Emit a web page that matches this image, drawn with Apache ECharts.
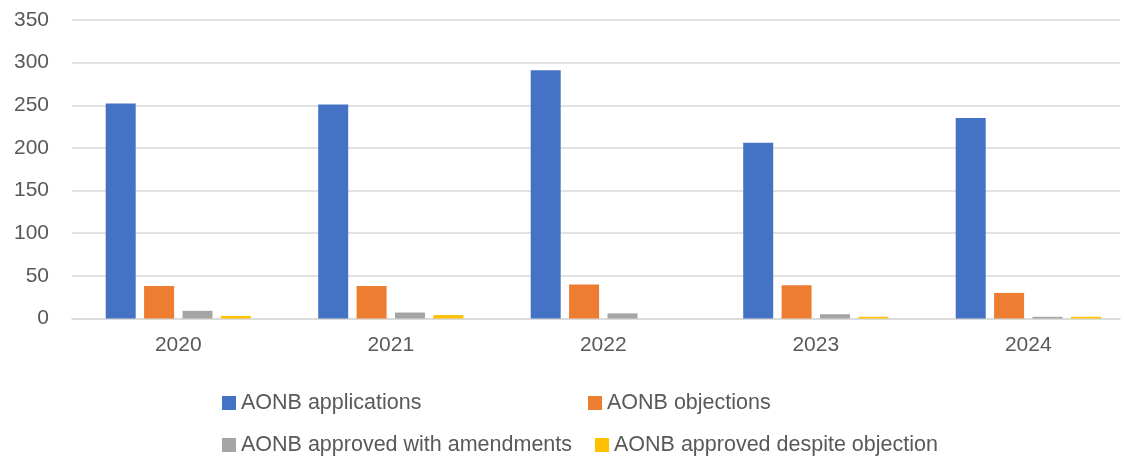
<!DOCTYPE html>
<html>
<head>
<meta charset="utf-8">
<script src="https://cdn.jsdelivr.net/npm/echarts@6/dist/echarts.min.js"></script>
<style>html,body{margin:0;padding:0;background:#fff}#c{width:1124px;height:460px}</style>
</head>
<body>
<div id="c"></div>
<script>
var categories = ['2020', '2021', '2022', '2023', '2024'];
var seriesNames = ['AONB applications', 'AONB objections', 'AONB approved with amendments', 'AONB approved despite objection'];
var applications = [252, 251, 291, 206, 235];
var objections = [38, 38, 40, 39, 30];
var approvedWithAmendments = [9, 7, 6, 5, 2];
var approvedDespiteObjection = [3, 4, 0, 2, 2];
var yTicks = [0, 50, 100, 150, 200, 250, 300, 350];

var colors = ['#4472C4', '#ED7D31', '#A5A5A5', '#FFC000'];
var dataSets = [applications, objections, approvedWithAmendments, approvedDespiteObjection];
var font = 'Liberation Sans';
var txt = '#595959';

var legendPos = [
  {left: 222, top: 392},
  {left: 588, top: 392},
  {left: 222, top: 434},
  {left: 595, top: 434}
];

var yMin = yTicks[0], yMax = yTicks[yTicks.length - 1];

var chart = echarts.init(document.getElementById('c'), null, {renderer: 'canvas'});
chart.setOption({
  animation: false,
  color: colors,
  grid: [
    {left: 72, right: 4, top: 20, bottom: 141.5, containLabel: false},
    {left: 178.3, right: 95.7, top: 20, bottom: 141.5, containLabel: false}
  ],
  legend: seriesNames.map(function (n, i) {
    return {
      data: [n], left: legendPos[i].left, top: legendPos[i].top,
      itemWidth: 14, itemHeight: 14, itemTextGap: 6, padding: 0,
      icon: 'rect',
      textStyle: {fontFamily: font, fontSize: 21.5, color: txt}
    };
  }),
  xAxis: [
    {
      gridIndex: 0, type: 'category', data: categories,
      axisLine: {lineStyle: {color: '#d9d9d9', width: 1.5}},
      axisTick: {show: false}, axisLabel: {show: false}
    },
    {
      gridIndex: 1, type: 'category', data: categories, boundaryGap: false,
      axisLine: {show: false}, axisTick: {show: false}, splitLine: {show: false},
      axisLabel: {fontFamily: font, fontSize: 21, color: txt, margin: 16}
    }
  ],
  yAxis: [
    {
      gridIndex: 0, type: 'value', min: yMin, max: yMax, interval: 50,
      axisLine: {show: false}, axisTick: {show: false},
      splitLine: {lineStyle: {color: '#d9d9d9', width: 1.5}},
      axisLabel: {fontFamily: font, fontSize: 21, color: txt, margin: 23}
    },
    {
      gridIndex: 1, type: 'value', min: yMin, max: yMax, interval: 50,
      axisLine: {show: false}, axisTick: {show: false},
      splitLine: {show: false}, axisLabel: {show: false}
    }
  ],
  series: dataSets.map(function (d, i) {
    return {
      name: seriesNames[i], type: 'bar', data: d,
      xAxisIndex: 1, yAxisIndex: 1, clip: false,
      barWidth: 30, barGap: '28%',
      itemStyle: {color: colors[i]}
    };
  })
});
</script>
</body>
</html>
